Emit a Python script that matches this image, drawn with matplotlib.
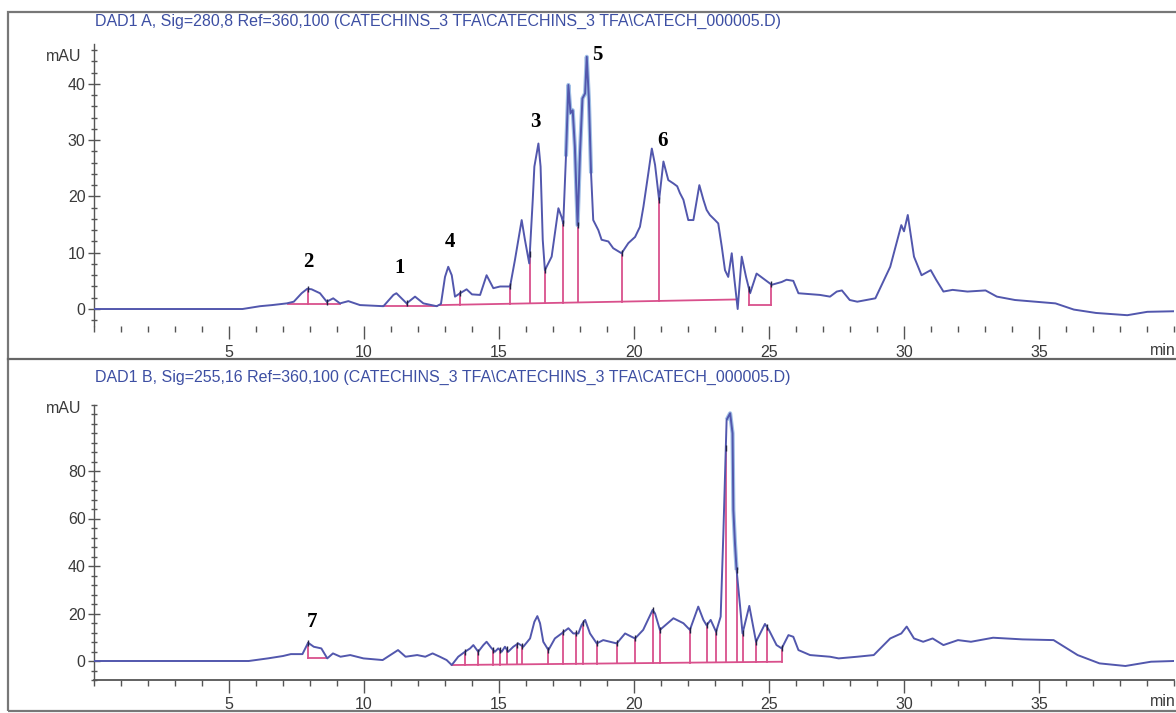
import numpy as np
import matplotlib
matplotlib.use('Agg')
import matplotlib.pyplot as plt
from matplotlib.ticker import MultipleLocator, FixedLocator
from matplotlib.patches import Rectangle
from matplotlib.lines import Line2D

# ---------------- data ----------------
title_a = "DAD1 A, Sig=280,8 Ref=360,100 (CATECHINS_3 TFA\\CATECHINS_3 TFA\\CATECH_000005.D)"
title_b = "DAD1 B, Sig=255,16 Ref=360,100 (CATECHINS_3 TFA\\CATECHINS_3 TFA\\CATECH_000005.D)"

time_a = [0.0, 5.5, 6.15, 6.6, 7.14, 7.4, 7.69, 7.9, 8.06, 8.37, 8.62, 8.86, 9.11, 9.42, 9.85,
          10.72, 11.09, 11.2, 11.58, 11.89, 12.2, 12.69, 12.85, 13.0, 13.12, 13.25, 13.37, 13.56,
          13.8, 14.0, 14.3, 14.54, 14.79, 15.04, 15.41, 15.59, 15.84, 15.96, 16.12, 16.25, 16.31,
          16.46, 16.54, 16.62, 16.7, 16.95, 17.2, 17.32, 17.38, 17.48, 17.57, 17.65, 17.73, 17.81,
          17.91, 18.0, 18.09, 18.19, 18.25, 18.33, 18.41, 18.49, 18.68, 18.8, 19.05, 19.23, 19.54,
          19.79, 20.04, 20.22, 20.35, 20.53, 20.66, 20.78, 20.93, 21.09, 21.27, 21.46, 21.6, 21.7,
          21.83, 22.01, 22.2, 22.42, 22.57, 22.69, 22.81, 23.0, 23.12, 23.25, 23.37, 23.49, 23.62,
          23.72, 23.84, 23.99, 24.15, 24.3, 24.54, 24.85, 25.1, 25.47, 25.65, 25.9, 26.09, 26.89,
          27.26, 27.51, 27.7, 27.99, 28.27, 28.94, 29.49, 29.9, 30.0, 30.14, 30.37, 30.65, 30.99,
          31.19, 31.46, 31.8, 32.35, 33.02, 33.44, 34.11, 35.61, 36.29, 37.11, 38.27, 39.01, 40.0]
mau_a = [0.0, 0.0, 0.5, 0.7, 1.0, 1.3, 2.8, 3.6, 3.5, 2.8, 1.3, 1.9, 1.0, 1.4, 0.7,
         0.5, 2.5, 2.8, 1.0, 2.2, 1.0, 0.5, 0.9, 5.7, 7.5, 6.0, 2.2, 2.8,
         3.5, 2.6, 2.5, 6.0, 3.7, 4.0, 4.0, 8.7, 15.8, 12.3, 8.1, 19.4, 25.3,
         29.4, 25.3, 12.3, 6.9, 9.3, 17.9, 16.3, 15.2, 27.1, 39.8, 34.8, 35.3, 28.8,
         14.9, 27.7, 37.4, 38.3, 44.8, 37.1, 24.1, 15.8, 14.0, 12.3, 12.0, 10.8, 9.9,
         11.7, 12.8, 14.6, 18.2, 24.1, 28.5, 25.6, 19.4, 26.2, 22.9, 22.3, 21.8, 20.6,
         19.4, 15.8, 15.8, 22.0, 19.4, 17.6, 16.7, 15.8, 15.2, 11.1, 6.9, 5.7, 9.9,
         5.2, 0.0, 9.3, 5.7, 2.8, 6.3, 5.2, 4.3, 4.8, 5.2, 5.0, 2.8, 2.5,
         2.2, 3.1, 3.3, 1.6, 1.3, 1.9, 7.5, 14.9, 13.8, 16.7, 9.3, 6.0, 6.9,
         5.2, 3.1, 3.4, 3.1, 3.3, 2.2, 1.6, 1.0, -0.1, -0.7, -1.1, -0.5, -0.4]

time_b = [0.0, 5.73, 6.44, 7.0, 7.29, 7.72, 7.93, 8.14, 8.42, 8.64, 8.85, 9.13, 9.49, 9.98,
          10.69, 11.26, 11.54, 11.97, 12.27, 12.54, 12.81, 13.06, 13.25, 13.49, 13.74, 13.93,
          14.05, 14.23, 14.42, 14.54, 14.73, 14.85, 14.97, 15.1, 15.22, 15.34, 15.53, 15.71,
          15.9, 16.15, 16.31, 16.42, 16.52, 16.64, 16.83, 17.07, 17.32, 17.57, 17.75, 17.94,
          18.06, 18.19, 18.37, 18.62, 18.86, 19.11, 19.36, 19.67, 19.91, 20.04, 20.34, 20.69,
          20.78, 20.96, 21.46, 21.83, 22.07, 22.38, 22.57, 22.69, 22.84, 23.04, 23.21, 23.31,
          23.43, 23.56, 23.65, 23.68, 23.74, 23.8, 23.93, 24.02, 24.27, 24.52, 24.85, 25.0,
          25.28, 25.47, 25.72, 25.9, 26.09, 26.52, 27.26, 27.58, 28.27, 28.88, 29.49, 29.9,
          30.1, 30.37, 30.71, 31.06, 31.46, 32.0, 32.48, 33.3, 34.39, 35.54, 36.43, 37.24,
          38.2, 39.15, 40.0]
mau_b = [0.0, 0.0, 1.1, 2.1, 2.9, 2.9, 7.7, 6.0, 5.3, 1.1, 3.2, 1.8, 2.5, 1.1,
         0.4, 4.6, 1.8, 2.5, 1.8, 3.2, 1.8, 0.4, -1.7, 1.8, 3.9, 5.3,
         6.7, 3.9, 6.7, 8.1, 5.3, 3.9, 5.3, 3.9, 6.0, 3.9, 6.0, 7.4,
         6.0, 9.5, 16.5, 18.9, 15.9, 8.1, 4.6, 9.5, 11.6, 13.8, 11.6, 11.6,
         15.2, 17.3, 11.6, 7.4, 8.8, 8.1, 7.4, 11.6, 10.2, 9.5, 13.1, 21.5,
         20.0, 13.1, 18.0, 15.9, 13.1, 22.9, 17.3, 15.0, 17.3, 12.3, 18.7, 53.8,
         101.5, 104.3, 95.9, 63.6, 49.5, 38.3, 22.9, 11.6, 23.2, 8.1, 15.6, 13.0,
         6.7, 5.3, 10.9, 10.2, 4.6, 2.5, 1.8, 1.1, 1.8, 2.5, 9.5, 11.6,
         14.5, 9.5, 8.1, 9.5, 6.7, 8.8, 8.1, 9.8, 9.1, 8.8, 2.5, -1.0,
         -2.1, -0.3, 0.0]

# integration baselines: (t_start, v_start, t_end, v_end) and drop-line times
base_a = [(7.2, 0.9, 9.1, 0.9), (10.72, 0.5, 12.69, 0.5), (12.8, 0.7, 23.84, 1.7),
          (24.26, 0.7, 25.07, 0.7)]
drops_a = [7.93, 8.62, 11.58, 13.57, 15.41, 16.14, 16.7, 17.38, 17.91, 19.54, 20.93, 24.26, 25.07]
base_b = [(7.93, 1.1, 8.64, 1.1), (13.25, -1.7, 25.47, -0.3)]
drops_b = [7.93, 13.74, 14.23, 14.79, 15.04, 15.28, 15.65, 15.84, 16.83, 17.38, 17.87, 18.12,
           18.62, 19.36, 20.04, 20.69, 20.96, 22.07, 22.69, 23.04, 23.4, 23.8, 24.02, 24.52,
           24.93, 25.47]

# peak labels (number, time, mAU)
labels_a = [("2", 7.93, 8.4), ("1", 11.3, 7.3), ("4", 13.19, 11.9), ("3", 16.33, 33.2),
            ("5", 18.63, 45.1), ("6", 21.07, 29.8)]
labels_b = [("7", 8.07, 16.4)]

ticks_a = [0, 10, 20, 30, 40]
ticks_b = [0, 20, 40, 60, 80]
ticks_x = [5, 10, 15, 20, 25, 30, 35]

# highlighted (re-integrated) stretches of the traces, drawn lighter blue
hilite_a = [(17.45, 18.45)]
hilite_b = [(23.38, 23.85)]

# ---------------- styling ----------------
W, H = 1176, 713
TRACE = '#5257ad'
HILITE = '#7aa6dc'
PINK = '#d9508c'
TITLE = '#3d4fa3'
AXC = '#555555'
TXT = '#3a3a3a'

plt.rcParams['font.family'] = ['Liberation Sans', 'DejaVu Sans']
fig = plt.figure(figsize=(W / 100, H / 100), dpi=100)
fig.patch.set_facecolor('white')

axA = fig.add_axes([94 / W, 1 - 325.9 / H, 1080 / W, (325.9 - 44.4) / H])
axB = fig.add_axes([94 / W, 1 - 680 / H, 1080 / W, (680 - 404.5) / H])


def baseline_value(segs, t):
    for (t0, v0, t1, v1) in segs:
        if t0 - 1e-6 <= t <= t1 + 1e-6:
            return np.interp(t, [t0, t1], [v0, v1])
    return None


def draw(ax, tt, vv, segs, drops, labs, hil, yt, ylim, minor_y, mau_y, bottom_axis):
    tt = np.asarray(tt)
    vv = np.asarray(vv)
    ax.set_xlim(0, 40)
    ax.set_ylim(*ylim)
    for (t0, v0, t1, v1) in segs:
        ax.plot([t0, t1], [v0, v1], color=PINK, lw=1.3, zorder=2)
    for t in drops:
        b = baseline_value(segs, t)
        if b is None:
            continue
        top = np.interp(t, tt, vv)
        ax.plot([t, t], [b, top], color=PINK, lw=1.3, zorder=2)
        ax.plot([t], [top], marker='|', color='#222244', ms=4, mew=1.0, zorder=4)
    for (a, b) in hil:
        m = (tt >= a) & (tt <= b)
        ax.plot(tt[m], vv[m], color=HILITE, lw=3.0, alpha=0.7, zorder=2.5,
                solid_capstyle='butt')
    ax.plot(tt, vv, color=TRACE, lw=1.4, zorder=3)
    for (s, t, v) in labs:
        ax.text(t, v, s, fontsize=15, fontweight='bold', family='Liberation Serif',
                ha='center', va='center', color='black', zorder=5)
    for sp in ['top', 'right']:
        ax.spines[sp].set_visible(False)
    ax.spines['left'].set_color(AXC)
    ax.spines['left'].set_linewidth(1.0)
    ax.spines['bottom'].set_visible(bottom_axis)
    ax.spines['bottom'].set_color(AXC)
    ax.spines['bottom'].set_linewidth(1.3)
    ax.yaxis.set_major_locator(FixedLocator(yt))
    ax.yaxis.set_minor_locator(MultipleLocator(minor_y))
    ax.xaxis.set_major_locator(FixedLocator(ticks_x))
    ax.xaxis.set_minor_locator(MultipleLocator(1))
    ax.tick_params(axis='y', which='major', direction='inout', length=8, width=1.0,
                   color=AXC, labelcolor=TXT, labelsize=11.5, pad=2)
    ax.tick_params(axis='y', which='minor', direction='inout', length=4, width=1.0, color=AXC)
    ax.tick_params(axis='x', which='major', direction='out', length=9, width=1.0,
                   color=AXC, labelcolor=TXT, labelsize=11.5, pad=5 if not bottom_axis else 3)
    ax.tick_params(axis='x', which='minor', direction='out', length=4, width=1.0, color=AXC)
    ax.set_facecolor('none')
    ax.text(-0.012, mau_y, 'mAU', transform=ax.get_yaxis_transform(), ha='right', va='center',
            fontsize=11.5, color=TXT)


draw(axA, time_a, mau_a, base_a, drops_a, labels_a, hilite_a, ticks_a, (-3, 47), 2, 44.8, False)
draw(axB, time_b, mau_b, base_b, drops_b, labels_b, hilite_b, ticks_b, (-8, 108), 4, 106.5, True)

# "min" unit labels at right end of x axes
fig.text(1150 / W, 1 - 351 / H, 'min', fontsize=11.5, color=TXT, ha='left', va='center')
fig.text(1150 / W, 1 - 701 / H, 'min', fontsize=11.5, color=TXT, ha='left', va='center')

# titles
fig.text(95 / W, 1 - 21 / H, title_a, fontsize=11.5, color=TITLE, ha='left', va='center')
fig.text(95 / W, 1 - 377 / H, title_b, fontsize=11.5, color=TITLE, ha='left', va='center')

# frame and divider
fig.add_artist(Rectangle((7.5 / W, 2 / H), 1.2, (711 - 12) / H, fill=False,
                         edgecolor='#777777', lw=1.6, transform=fig.transFigure))
fig.add_artist(Line2D([7.5 / W, 1.0], [1 - 359 / H] * 2, color='#666666', lw=1.6,
                      transform=fig.transFigure))

fig.savefig('out.png', dpi=100)
